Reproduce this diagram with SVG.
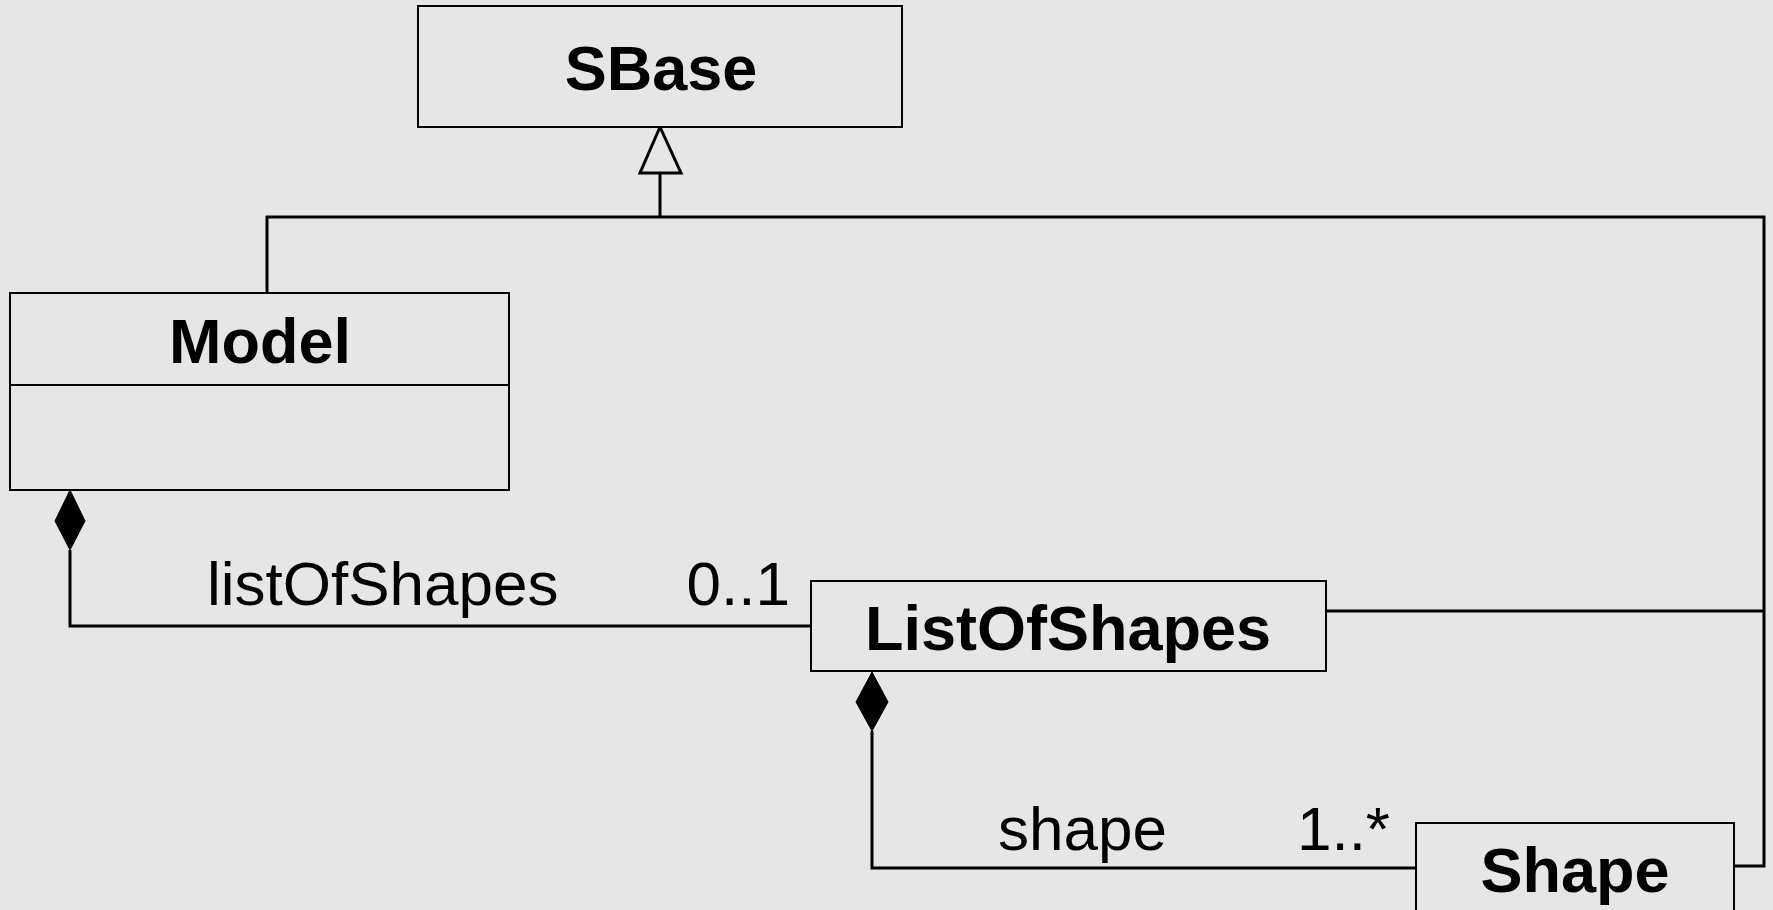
<svg xmlns="http://www.w3.org/2000/svg" width="1773" height="910" viewBox="0 0 1773 910">
<style>
.box{fill:#e6e6e6;stroke:#000;stroke-width:2}
.cn{fill:none;stroke:#000;stroke-width:3}
.title{font-family:"Liberation Sans",Arial,sans-serif;font-weight:bold;font-size:63px;text-anchor:middle;fill:#000}
.lbl{font-family:"Liberation Sans",Arial,sans-serif;font-size:62px;fill:#000}
.dia{fill:#000;stroke:#000;stroke-width:1}
.tri{fill:#e6e6e6;stroke:#000;stroke-width:3}
</style>
<rect x="0" y="0" width="1773" height="910" fill="#e6e6e6"/>
<g id="connectors">
  <polyline class="cn" points="267,293 267,217 1764,217 1764,866 1734,866"/>
  <line class="cn" x1="660" y1="173" x2="660" y2="217"/>
  <polygon class="tri" points="660,127 640,173 681,173"/>
  <line class="cn" x1="1326" y1="611" x2="1764" y2="611"/>
  <polyline class="cn" points="70,550 70,626 811,626"/>
  <polygon class="dia" points="70,490 85,521 70,550 55,521"/>
  <text class="lbl" x="207" y="605">listOfShapes</text>
  <text class="lbl" x="790" y="605" text-anchor="end">0..1</text>
  <polyline class="cn" points="872,731 872,868 1416,868"/>
  <polygon class="dia" points="872,672 888,702 872,731 856,702"/>
  <text class="lbl" x="998" y="850">shape</text>
  <text class="lbl" x="1390" y="850" text-anchor="end">1..*</text>
</g>
<g id="SBase">
  <rect class="box" x="418" y="6" width="484" height="121"/>
  <text class="title" x="661" y="90">SBase</text>
</g>
<g id="Model">
  <rect class="box" x="10" y="293" width="499" height="197"/>
  <line x1="10" y1="385" x2="509" y2="385" stroke="#000" stroke-width="2"/>
  <text class="title" x="260" y="363">Model</text>
</g>
<g id="ListOfShapes">
  <rect class="box" x="811" y="581" width="515" height="90"/>
  <text class="title" x="1068" y="650">ListOfShapes</text>
</g>
<g id="Shape">
  <rect class="box" x="1416" y="823" width="318" height="100"/>
  <text class="title" x="1575" y="892">Shape</text>
</g>
</svg>
